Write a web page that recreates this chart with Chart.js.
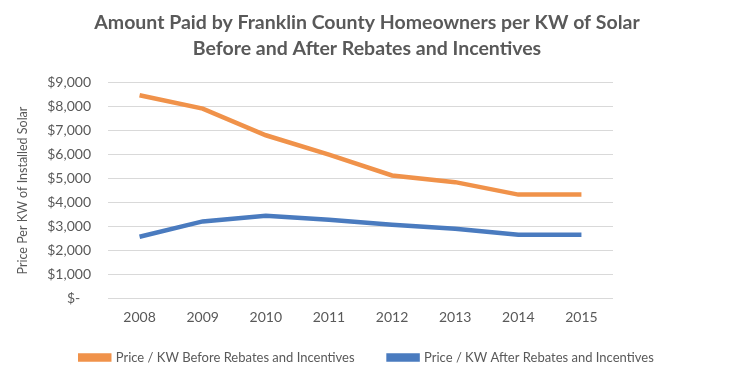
<!DOCTYPE html>
<html>
<head>
<meta charset="utf-8">
<script src="https://cdn.jsdelivr.net/npm/chart.js@4.4.0/dist/chart.umd.min.js"></script>
<style>
  html, body { margin: 0; padding: 0; background: #fff; }
  #wrap { width: 734px; height: 377px; position: relative; }
</style>
</head>
<body>
<div id="wrap"><canvas id="myChart" width="734" height="377"></canvas></div>
<script>
// data
const years = ["2008", "2009", "2010", "2011", "2012", "2013", "2014", "2015"];
const antes = [8480, 7925, 6810, 6000, 5130, 4850, 4330, 4330];
const despues = [2570, 3210, 3450, 3280, 3070, 2900, 2650, 2650];
const nombreAntes = "Price / KW Before Rebates and Incentives";
const nombreDespues = "Price / KW After Rebates and Incentives";
const titulo = [
  "Amount Paid by Franklin County Homeowners per KW of Solar",
  "Before and After Rebates and Incentives",
];
const tituloEje = "Price Per KW of Installed Solar";

const gris = "#595959";
const fuente = "Lato, 'Open Sans', sans-serif";

function formatoPeso(v) {
  if (v === 0) return "$-   ";
  return "$" + v.toLocaleString("en-US");
}

// leyenda con mas aire entre los dos items
function etiquetasLeyenda(chart) {
  const items = Chart.defaults.plugins.legend.labels.generateLabels(chart);
  items.forEach((it, i) => {
    if (i < items.length - 1) it.text = it.text + "      ";
  });
  return items;
}

const chartDOM = document.getElementById("myChart").getContext("2d");
const miGrafica = new Chart(chartDOM, {
  type: "line",
  data: {
    labels: years,
    datasets: [
      {
        label: nombreAntes,
        data: antes,
        borderColor: "#F0924A",
        backgroundColor: "#F0924A",
        borderWidth: 4.5,
        pointRadius: 0,
        tension: 0,
      },
      {
        label: nombreDespues,
        data: despues,
        borderColor: "#4A7BBF",
        backgroundColor: "#4A7BBF",
        borderWidth: 4.5,
        pointRadius: 0,
        tension: 0,
      },
    ],
  },
  options: {
    responsive: false,
    animation: false,
    layout: { padding: { left: 0, right: 0, top: 4, bottom: 3 } },
    plugins: {
      title: {
        display: true,
        text: titulo,
        color: gris,
        font: { family: fuente, size: 19.5, weight: "bold", lineHeight: 1.33 },
        padding: { top: 6, bottom: 21 },
      },
      legend: {
        position: "bottom",
        align: "center",
        labels: {
          color: gris,
          font: { family: fuente, size: 13 },
          boxWidth: 29,
          boxHeight: 4,
          padding: 14,
          generateLabels: etiquetasLeyenda,
        },
      },
      tooltip: { enabled: false },
    },
    scales: {
      x: {
        offset: true,
        grid: { display: false, drawTicks: false },
        border: { display: false },
        ticks: { color: gris, font: { family: fuente, size: 14 }, padding: 11 },
      },
      y: {
        min: 0,
        max: 9000,
        afterFit: (s) => { s.width = 108; },
        grid: { color: "#D9D9D9", drawTicks: false },
        border: { display: false },
        ticks: {
          stepSize: 1000,
          autoSkip: false,
          color: gris,
          font: { family: fuente, size: 14 },
          padding: 17,
          callback: (v) => formatoPeso(v),
        },
        title: {
          display: true,
          text: tituloEje,
          color: gris,
          font: { family: fuente, size: 12.5 },
          padding: { top: 15, bottom: 0 },
        },
      },
      // espacio vacio a la derecha del area de la grafica
      derecha: {
        position: "right",
        display: true,
        grid: { display: false, drawTicks: false },
        border: { display: false },
        ticks: { display: false },
        afterFit: (s) => { s.width = 121; },
      },
    },
  },
});
</script>
</body>
</html>
